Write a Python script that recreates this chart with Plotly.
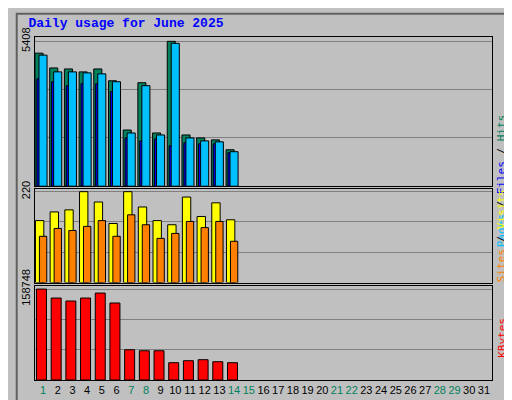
import plotly.graph_objects as go
from plotly.subplots import make_subplots

days = list(range(1, 32))
active = days[:14]
weekend = [1, 7, 8, 14, 15, 21, 22, 28, 29]

hits = [4967, 4415, 4378, 4268, 4378, 3936, 2097, 3863, 1987, 5408, 1913, 1803, 1729, 1361]
files = [4893, 4268, 4268, 4231, 4194, 3900, 1987, 3753, 1913, 5334, 1803, 1692, 1656, 1288]
pages = [4010, 3900, 3753, 3826, 3826, 3532, 1803, 1692, 1766, 1508, 1619, 1582, 1582, 1251]
visits = [150, 171, 176, 220, 195, 143, 220, 183, 150, 140, 207, 160, 193, 152]
sites = [112, 131, 126, 136, 150, 112, 164, 140, 107, 119, 148, 133, 148, 100]
kbytes = [158748, 143113, 137902, 143113, 151797, 134429, 52799, 51062, 51062,
          30221, 33694, 35431, 31957, 30221]

fig = make_subplots(rows=3, cols=1, shared_xaxes=True)
line = dict(color="black", width=1)


def bar(y, color, off, w, row):
    fig.add_trace(go.Bar(x=active, y=y, marker=dict(color=color, line=line),
                         offset=off, width=w), row=row, col=1)


bar(hits, "#00805c", -0.55, 0.55, 1)
bar(pages, "#0000ff", -0.42, 0.42, 1)
bar(files, "#00c0ff", -0.28, 0.55, 1)
bar(visits, "#ffff00", -0.52, 0.57, 2)
bar(sites, "#ff8000", -0.25, 0.5, 2)
bar(kbytes, "#ff0000", -0.45, 0.68, 3)

domains = [[0.565, 1.0], [0.284, 0.557], [0.0, 0.273]]
maxes = [max(hits), max(visits), max(kbytes)]
for i, (d, m) in enumerate(zip(domains, maxes), start=1):
    fig.update_yaxes(row=i, col=1, domain=d, range=[0, m * 1.03],
                     tickvals=[0, m / 3, 2 * m / 3, m],
                     ticktext=["", "", "", str(m)], tickangle=-90,
                     gridcolor="#808080", showline=True, linecolor="black",
                     mirror=True, ticks="", zeroline=False,
                     tickfont=dict(family="Liberation Sans", size=11, color="black"))

ticktext = [f"<span style='color:#00805c'>{d}</span>" if d in weekend else str(d)
            for d in days]
fig.update_xaxes(range=[0.45, 31.55], showline=True, linecolor="black", mirror=True,
                 showgrid=False, tickvals=days, ticktext=ticktext, ticks="",
                 tickfont=dict(family="Liberation Sans", size=11, color="black"))

rlabels = [
    ("<span style='color:#00c0ff'>Pages</span> / <span style='color:#0000ff'>Files</span>"
     " / <span style='color:#00805c'>Hits</span>", 0.78),
    ("<span style='color:#ff8000'>Sites</span> / <span style='color:#ffff00'>Visits</span>", 0.42),
    ("<span style='color:#ff0000'>KBytes</span>", 0.06),
]
for txt, y in rlabels:
    fig.add_annotation(text=txt, xref="paper", yref="paper", x=1.004, y=y,
                       textangle=-90, showarrow=False, xanchor="left",
                       font=dict(family="DejaVu Sans Mono", size=11, color="black"))

fig.add_shape(type="rect", xref="paper", yref="paper", x0=-0.040, x1=1.058,
              y0=-0.062, y1=1.068, line=dict(color="#606060", width=2))

fig.update_layout(
    width=512, height=400, showlegend=False, barmode="overlay",
    title=dict(text="<b>Daily usage for June 2025</b>", x=0.04, y=0.975,
               font=dict(family="Liberation Mono", size=13, color="#0000ff")),
    paper_bgcolor="#c0c0c0", plot_bgcolor="#c0c0c0",
    margin=dict(l=20, r=28, t=25, b=23),
)

fig.write_html("out.html")
